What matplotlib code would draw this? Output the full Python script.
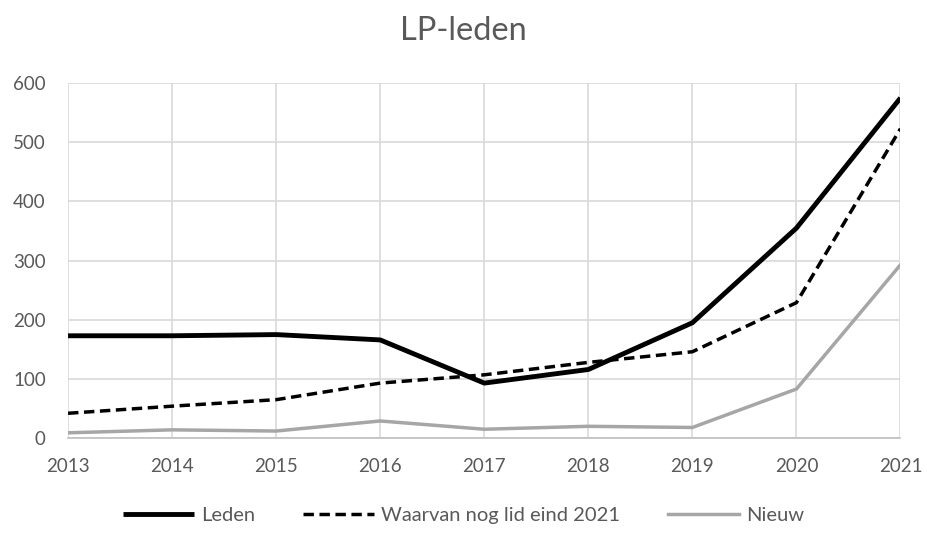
import matplotlib
matplotlib.use("Agg")
import matplotlib.pyplot as plt

years = [2013, 2014, 2015, 2016, 2017, 2018, 2019, 2020, 2021]
leden = [173, 173, 175, 166, 93, 116, 195, 355, 575]
waarvan = [42, 54, 65, 93, 107, 128, 146, 229, 523]
nieuw = [9, 14, 12, 29, 15, 20, 18, 83, 293]
yticks = [0, 100, 200, 300, 400, 500, 600]

plt.rcParams['font.family'] = ['Lato', 'DejaVu Sans']
txt = '#595959'

fig = plt.figure(figsize=(9.27, 5.33), dpi=100)
ax = fig.add_axes([0.0734, 0.178, 0.898, 0.666])

ax.plot(years, leden, color='black', lw=3.5, label='Leden', solid_capstyle='butt')
ax.plot(years, waarvan, color='black', lw=2.5, ls=(0, (3, 1.6)), label='Waarvan nog lid eind 2021')
ax.plot(years, nieuw, color='#a6a6a6', lw=2.5, label='Nieuw')

ax.set_xlim(2013, 2021)
ax.set_ylim(0, 600)
ax.set_xticks(years)
ax.set_xticklabels([str(y) for y in years])
ax.set_yticks(yticks)
ax.grid(True, color='#d9d9d9', lw=1.2)
ax.set_axisbelow(True)
for s in ['top', 'right', 'left']:
    ax.spines[s].set_visible(False)
ax.spines['bottom'].set_color('#bfbfbf')
ax.spines['bottom'].set_linewidth(1.2)
ax.tick_params(axis='both', length=0, labelsize=13.5, colors=txt)
ax.tick_params(axis='x', pad=14)
ax.tick_params(axis='y', pad=16)

fig.suptitle('LP-leden', y=0.97, fontsize=23.5, color=txt)
fig.legend(loc='lower center', bbox_to_anchor=(0.5, -0.018), ncol=3, frameon=False,
           fontsize=14.5, handlelength=3.5, columnspacing=2.4, handletextpad=0.35,
           labelcolor=txt)

fig.savefig('out.png', dpi=100)
